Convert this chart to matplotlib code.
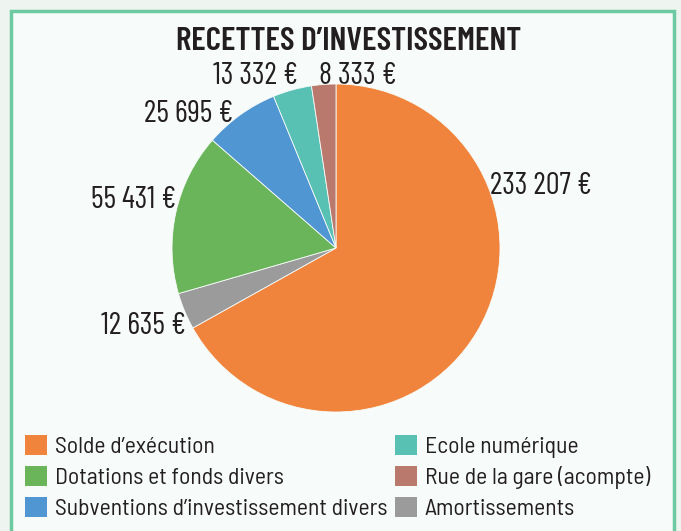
import matplotlib
matplotlib.use("Agg")
import matplotlib.pyplot as plt
from matplotlib.patches import Rectangle, Patch

title = "RECETTES D\u2019INVESTISSEMENT"
categories = ["Solde d\u2019ex\u00e9cution", "Amortissements", "Dotations et fonds divers",
              "Subventions d\u2019investissement divers", "Ecole num\u00e9rique",
              "Rue de la gare (acompte)"]
values = [233207, 12635, 55431, 25695, 13332, 8333]
value_labels = ["233 207 \u20ac", "12 635 \u20ac", "55 431 \u20ac", "25 695 \u20ac",
                "13 332 \u20ac", "8 333 \u20ac"]
colors = ["#F0843C", "#9B9B9B", "#6AB55A", "#4F96D2", "#58C1B4", "#B97A6D"]
legend_order = [0, 2, 3, 4, 5, 1]

plt.rcParams['font.family'] = ["Barlow Condensed", "DejaVu Sans"]
txt_color = "#231f20"

fig = plt.figure(figsize=(6.81, 5.31), dpi=100)
fig.patch.set_facecolor("#eef5f1")
panel = Rectangle((11/681, -0.05), (674-11)/681, (531-11)/531 + 0.05,
                  transform=fig.transFigure, facecolor="#f7fbf9",
                  edgecolor="#6CC9A0", linewidth=2.5, zorder=-10)
fig.patches.append(panel)

fig.text(349/681, 1 - 42/531, title, ha="center", va="center",
         fontsize=24, fontweight="semibold", color=txt_color)

# pie axes: center (336,248), radius 164 px
r = 164
ax = fig.add_axes([(336 - r)/681, 1 - (248 + r)/531, 2*r/681, 2*r/531], zorder=5)
ax.patch.set_visible(False)
wedges, _ = ax.pie(values, colors=colors, startangle=90, counterclock=False,
                   radius=1, wedgeprops=dict(linewidth=0.6, edgecolor="#f7fbf9"))
ax.set_xlim(-1, 1); ax.set_ylim(-1, 1)
ax.set_aspect("auto")
ax.axis("off")

label_pos = [(490, 186, "left"), (186, 326, "right"), (176, 200, "right"),
             (233, 114, "right"), (298, 76, "right"), (319, 76, "left")]
for lab, (x, y, ha) in zip(value_labels, label_pos):
    fig.text(x/681, 1 - y/531, lab, ha=ha, va="center", fontsize=22, color=txt_color)

handles = [Patch(facecolor=colors[i], edgecolor="none") for i in legend_order]
labels = [categories[i] for i in legend_order]
leg = fig.legend(handles, labels, ncol=2, loc="upper left",
                 bbox_to_anchor=(4/681, 1 - 414/531), frameon=False,
                 prop=dict(family=["Barlow Semi Condensed", "DejaVu Sans"], size=17),
                 handlelength=0.93, handleheight=0.93,
                 handletextpad=0.34, columnspacing=0.3, labelspacing=0.33,
                 labelcolor=txt_color)

fig.savefig("out.png", dpi=100, facecolor=fig.get_facecolor())
